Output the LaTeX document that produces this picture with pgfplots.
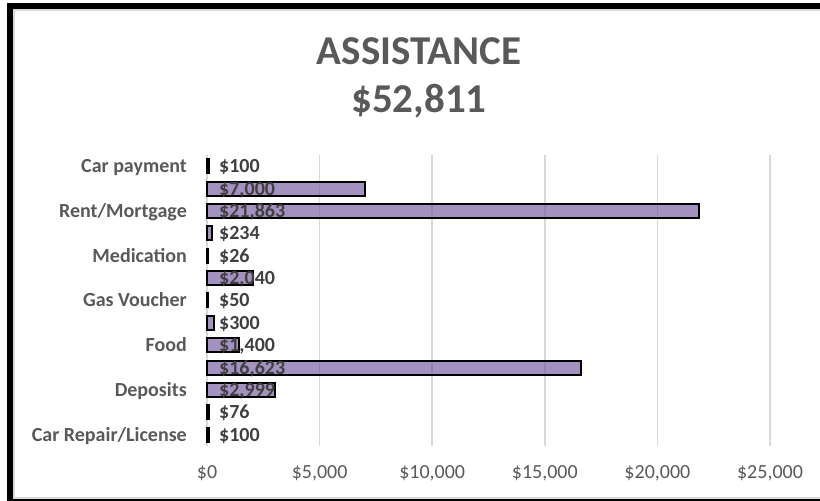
\documentclass[border=0pt]{standalone}
\usepackage{fontspec}
\setmainfont{Carlito}
\usepackage{pgfplots}
\usepackage{pgfplotstable}
\pgfplotsset{compat=1.18}

\definecolor{txtgray}{HTML}{595959}
\definecolor{lblgray}{HTML}{404040}
\definecolor{gridgray}{HTML}{D9D9D9}
\definecolor{barpurple}{RGB}{107,78,153}

% bottom to top
\pgfplotstableread{
idx value
0 100
1 76
2 2999
3 16623
4 1400
5 300
6 50
7 2040
8 26
9 234
10 21863
11 7000
12 100
}\assist

\begin{document}
\begin{tikzpicture}
\useasboundingbox (0,0) rectangle (820bp,501bp);
\draw[gridgray, line width=1.5bp] (14bp,3bp) rectangle (830bp,491bp);
\draw[black, line width=6bp] (10bp,-1bp) rectangle (826bp,495bp);

\node[anchor=base, text=txtgray, font=\fontsize{41bp}{49bp}\selectfont\bfseries] at (419bp,436bp) {ASSISTANCE};
\node[anchor=base, text=txtgray, font=\fontsize{41bp}{49bp}\selectfont\bfseries] at (419bp,388bp) {\$52,811};

\begin{axis}[
    at={(207bp,55bp)}, anchor=south west,
    scale only axis,
    width=563bp, height=291bp,
    xmin=0, xmax=25000,
    ymin=-0.5, ymax=12.5,
    xtick={0,5000,10000,15000,20000,25000},
    xticklabels={{\$0},{\$5,000},{\$10,000},{\$15,000},{\$20,000},{\$25,000}},
    ytick={0,2,4,6,8,10,12},
    yticklabels={Car Repair/License,Deposits,Food,Gas Voucher,Medication,Rent/Mortgage,Car payment},
    xmajorgrids,
    grid style={gridgray, line width=1.5bp},
    axis line style={draw=none},
    major tick length=0pt,
    scaled x ticks=false,
    tick label style={font=\fontsize{20bp}{24bp}\selectfont, text=txtgray},
    yticklabel style={font=\fontsize{20bp}{24bp}\selectfont\bfseries, anchor=base east, inner sep=0pt, xshift=-20bp, yshift=-6.5bp},
    xticklabel style={anchor=base, inner sep=0pt, yshift=-33bp},
    clip=false,
]
% data labels sit at the base of each bar, under the bars
\addplot[draw=none, mark=none,
    point meta=explicit,
    nodes near coords={\$\pgfmathprintnumber[fixed, precision=0, 1000 sep={,}, assume math mode=true]{\pgfplotspointmeta}},
    every node near coord/.append style={anchor=base west, inner sep=0pt, xshift=12bp, yshift=-6.5bp,
        font=\fontsize{20bp}{24bp}\selectfont\bfseries, text=lblgray},
] table[x expr=0, y=idx, meta=value] {\assist};

\addplot[xbar, bar width=14bp, bar shift=0pt, draw=black, line width=2bp,
    fill=barpurple, fill opacity=0.62] table[x=value, y=idx] {\assist};
\end{axis}
\end{tikzpicture}
\end{document}
